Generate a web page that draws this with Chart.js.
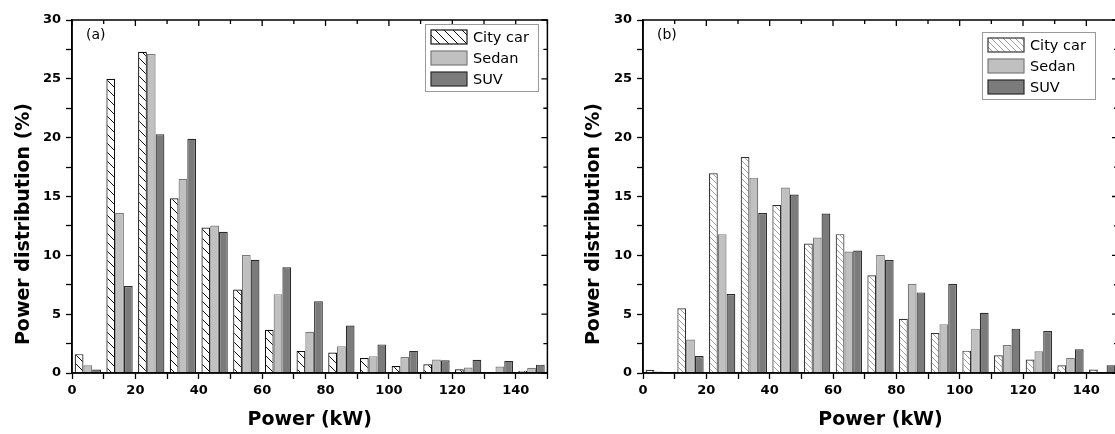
<!DOCTYPE html>
<html>
<head>
<meta charset="utf-8">
<script src="https://cdn.jsdelivr.net/npm/chart.js@4.4.1/dist/chart.umd.min.js"></script>
<style>
  html, body { margin: 0; padding: 0; background: #fff; overflow: hidden; }
  #wrap { position: relative; width: 1115px; height: 434px; overflow: hidden; }
  canvas { position: absolute; top: 0; }
  #chartA { left: 0; }
  #chartB { left: 557px; }
</style>
</head>
<body>
<div id="wrap">
  <canvas id="chartA" width="557" height="434"></canvas>
  <canvas id="chartB" width="568" height="434"></canvas>
</div>
<script>
// bin centres (kW), 10 kW wide bins
const binCenters = [5, 15, 25, 35, 45, 55, 65, 75, 85, 95, 105, 115, 125, 135, 145];
const seriesNames = ['City car', 'Sedan', 'SUV'];
const xTickLabels = [0, 20, 40, 60, 80, 100, 120, 140];
const yTickLabels = [0, 5, 10, 15, 20, 25, 30];

// panel (a)
const cityA  = [1.6, 25.0, 27.3, 14.85, 12.37, 7.1, 3.68, 1.88, 1.74, 1.27, 0.6, 0.75, 0.31, 0.07, 0.2];
const sedanA = [0.65, 13.6, 27.1, 16.5, 12.53, 10.02, 6.7, 3.5, 2.28, 1.43, 1.35, 1.15, 0.46, 0.55, 0.45];
const suvA   = [0.29, 7.4, 20.3, 19.9, 12.0, 9.62, 8.98, 6.1, 4.04, 2.43, 1.88, 1.08, 1.13, 1.03, 0.71];

// panel (b)
const cityB  = [0.28, 5.5, 16.97, 18.36, 14.27, 11.0, 11.8, 8.3, 4.61, 3.4, 1.9, 1.5, 1.15, 0.65, 0.29];
const sedanB = [0.13, 2.85, 11.8, 16.6, 15.76, 11.52, 10.32, 10.02, 7.57, 4.15, 3.77, 2.37, 1.85, 1.29, 0.05];
const suvB   = [0.05, 1.45, 6.72, 13.6, 15.17, 13.55, 10.41, 9.6, 6.85, 7.57, 5.12, 3.77, 3.56, 2.01, 0.65];

Chart.defaults.font.family = '"DejaVu Sans", sans-serif';
Chart.defaults.color = '#000';

function hatch(step, color, width) {
  const c = document.createElement('canvas');
  c.width = step; c.height = step;
  const g = c.getContext('2d');
  g.fillStyle = '#fff';
  g.fillRect(0, 0, step, step);
  g.strokeStyle = color;
  g.lineWidth = width;
  g.beginPath();
  g.moveTo(-1, -1); g.lineTo(step + 1, step + 1);
  g.moveTo(-1, step - 1); g.lineTo(1, step + 1);
  g.moveTo(step - 1, -1); g.lineTo(step + 1, 1);
  g.stroke();
  return g.createPattern(c, 'repeat');
}

const toPoints = vals => vals.map((v, i) => ({ x: binCenters[i], y: v }));

// frame, mirrored inward ticks, legend box, panel tag, y title
const decorPlugin = {
  id: 'decor',
  afterDatasetsDraw(chart, args, opts) {
    const { ctx, chartArea: a, scales: { x, y } } = chart;
    ctx.save();
    ctx.strokeStyle = '#000';
    ctx.lineWidth = 1.5;
    ctx.strokeRect(a.left, a.top, a.right - a.left, a.bottom - a.top);
    ctx.lineWidth = 1.3;
    ctx.beginPath();
    x.ticks.forEach(t => {
      const px = x.getPixelForValue(t.value);
      const len = xTickLabels.includes(t.value) ? 6 : 4;
      ctx.moveTo(px, a.top); ctx.lineTo(px, a.top + len);
    });
    y.ticks.forEach(t => {
      const py = y.getPixelForValue(t.value);
      const len = yTickLabels.includes(t.value) ? 6 : 4;
      ctx.moveTo(a.right, py); ctx.lineTo(a.right - len, py);
    });
    ctx.stroke();

    // panel tag
    ctx.fillStyle = '#000';
    ctx.font = '14px "DejaVu Sans"';
    ctx.textAlign = 'left';
    ctx.textBaseline = 'middle';
    ctx.fillText(opts.tag, a.left + 14, 35);

    // y title
    ctx.save();
    ctx.translate(opts.titleX, 224);
    ctx.rotate(-Math.PI / 2);
    ctx.font = 'bold 19px "DejaVu Sans"';
    ctx.textAlign = 'center';
    ctx.fillText('Power distribution (%)', 0, 0);
    ctx.restore();

    // legend
    const L = opts.legend;
    ctx.fillStyle = '#fff';
    ctx.fillRect(L.x, L.y, 113, 67);
    ctx.strokeStyle = '#9a9a9a';
    ctx.lineWidth = 1;
    ctx.strokeRect(L.x + 0.5, L.y + 0.5, 113, 67);
    ctx.font = '14.5px "DejaVu Sans"';
    chart.data.datasets.forEach((ds, i) => {
      const cy = L.y + 13 + i * 21;
      ctx.fillStyle = ds.backgroundColor;
      ctx.fillRect(L.x + 6, cy - 7, 36, 14);
      ctx.strokeStyle = ds.borderColor;
      ctx.lineWidth = 1.2;
      ctx.strokeRect(L.x + 6, cy - 7, 36, 14);
      ctx.fillStyle = '#000';
      ctx.fillText(ds.label, L.x + 48, cy + 1);
    });
    ctx.restore();
  }
};

function makeChart(id, city, sedan, suv, cityFill, cityBorder, padLeft, padRight, tag, titleX, legendPos) {
  return new Chart(document.getElementById(id), {
    type: 'bar',
    data: {
      datasets: [
        { label: seriesNames[0], data: toPoints(city), backgroundColor: cityFill, borderColor: cityBorder },
        { label: seriesNames[1], data: toPoints(sedan), backgroundColor: '#c0c0c0', borderColor: '#7a7a7a' },
        { label: seriesNames[2], data: toPoints(suv), backgroundColor: '#7b7b7b', borderColor: '#2b2b2b' }
      ]
    },
    options: {
      responsive: false,
      animation: false,
      devicePixelRatio: 1,
      layout: { padding: { top: 20, right: padRight, left: 0, bottom: 0 } },
      datasets: { bar: { categoryPercentage: 0.83, barPercentage: 1.0, borderWidth: 1.2 } },
      plugins: {
        legend: { display: false },
        tooltip: { enabled: false },
        decor: { tag: tag, titleX: titleX, legend: legendPos }
      },
      scales: {
        x: {
          type: 'linear',
          min: 0, max: 150,
          offset: false,
          grid: { offset: false, drawOnChartArea: false, drawTicks: true, tickLength: 6, color: '#000', tickWidth: 1.3 },
          border: { display: true, color: '#000', width: 1.5 },
          ticks: {
            stepSize: 10, autoSkip: false, maxRotation: 0, padding: 4,
            font: { size: 13, weight: 'bold' },
            callback: v => xTickLabels.includes(v) ? String(v) : ''
          },
          title: { display: true, text: 'Power (kW)', font: { size: 19, weight: 'bold' }, padding: { top: 0, bottom: 3 } },
          afterFit: s => { s.height = 61; }
        },
        y: {
          min: 0, max: 30,
          grid: { drawOnChartArea: false, drawTicks: true, tickLength: 6, color: '#000', tickWidth: 1.3 },
          border: { display: true, color: '#000', width: 1.5 },
          ticks: {
            stepSize: 2.5, autoSkip: false, padding: 5,
            font: { size: 13, weight: 'bold' },
            callback: v => yTickLabels.includes(v) ? String(v) : ''
          },
          afterFit: s => { s.width = padLeft; }
        }
      }
    },
    plugins: [decorPlugin]
  });
}

makeChart('chartA', cityA, sedanA, suvA, hatch(9, '#111', 1), '#111', 72, 9.6, '(a)', 24, { x: 425, y: 24 });
makeChart('chartB', cityB, sedanB, suvB, hatch(6, '#8a8a8a', 0.8), '#333', 86, 7, '(b)', 37, { x: 425, y: 32 });
</script>
</body>
</html>
